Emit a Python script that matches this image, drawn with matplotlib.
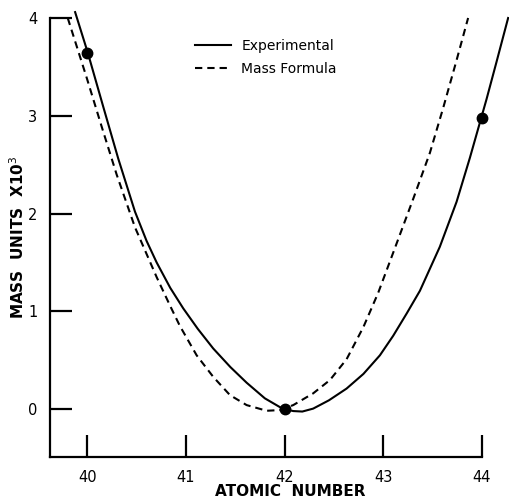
import matplotlib
matplotlib.use("Agg")
import matplotlib.pyplot as plt

# Experimental curve
exp_x = [39.875, 40.005, 40.161, 40.313, 40.482, 40.60, 40.702, 40.84, 40.972, 41.12, 41.276,
         41.45, 41.615, 41.80, 41.953, 42.0, 42.088, 42.18, 42.29, 42.45, 42.629, 42.80,
         42.967, 43.102, 43.24, 43.373, 43.575, 43.745, 43.88, 44.049, 44.15, 44.268]
exp_y = [4.06, 3.64, 3.09, 2.56, 2.02, 1.72, 1.50, 1.24, 1.03, 0.82, 0.62,
         0.43, 0.27, 0.11, 0.02, 0.0, -0.02, -0.025, 0.005, 0.09, 0.21, 0.36,
         0.55, 0.75, 0.98, 1.21, 1.66, 2.12, 2.57, 3.17, 3.55, 4.0]

# Mass formula curve
mf_x = [39.80, 39.992, 40.144, 40.296, 40.482, 40.702, 40.837, 40.938, 41.108, 41.276, 41.446,
        41.615, 41.818, 41.953, 42.088, 42.29, 42.46, 42.629, 42.80, 42.95, 43.102, 43.305,
        43.474, 43.609, 43.74, 43.862]
mf_y = [4.00, 3.39, 2.89, 2.40, 1.86, 1.35, 1.06, 0.85, 0.55, 0.33, 0.143,
        0.041, -0.017, -0.01, 0.041, 0.161, 0.297, 0.51, 0.84, 1.19, 1.60, 2.15,
        2.62, 3.08, 3.55, 4.0]

# Measured points
pt_x = [40, 42, 44]
pt_y = [3.64, 0.0, 2.98]

x_ticks = [40, 41, 42, 43, 44]
y_ticks = [0, 1, 2, 3, 4]

fig = plt.figure(figsize=(5.09, 4.98), dpi=100)
ax = fig.add_axes([0.0982, 0.0823, 0.9464 - 0.0982, 0.9639 - 0.0823])

ax.plot(exp_x, exp_y, color="black", lw=1.5, clip_on=False, label="Experimental",
        solid_joinstyle="round")
ax.plot(mf_x, mf_y, color="black", lw=1.5, ls=(0, (3.5, 2.4)), clip_on=False,
        label="Mass Formula")
ax.plot(pt_x, pt_y, "o", color="black", ms=7.5, clip_on=False, zorder=5)

ax.set_xlim(39.62, 44.0)
ax.set_ylim(-0.49, 4.0)
ax.set_xticks(x_ticks)
ax.set_yticks(y_ticks)
for s in ["top", "right"]:
    ax.spines[s].set_visible(False)
for s in ["left", "bottom"]:
    ax.spines[s].set_linewidth(1.6)
ax.tick_params(direction="in", length=16, width=1.6, labelsize=10.5)
ax.tick_params(axis="x", pad=9)
ax.tick_params(axis="y", pad=9)

ax.set_xlabel("ATOMIC  NUMBER", fontsize=11, fontweight="bold")
ax.xaxis.set_label_coords(0.556, -0.062)
ax.set_ylabel("MASS  UNITS  X10$^3$", fontsize=11, fontweight="bold", va="center")
ax.yaxis.set_label_coords(-0.076, 0.5)

leg = ax.legend(loc="upper left", bbox_to_anchor=(0.335, 0.953), frameon=False,
                fontsize=10, handlelength=2.6, handletextpad=0.75, labelspacing=0.7,
                borderpad=0, borderaxespad=0)

fig.savefig("out.png", dpi=100)
